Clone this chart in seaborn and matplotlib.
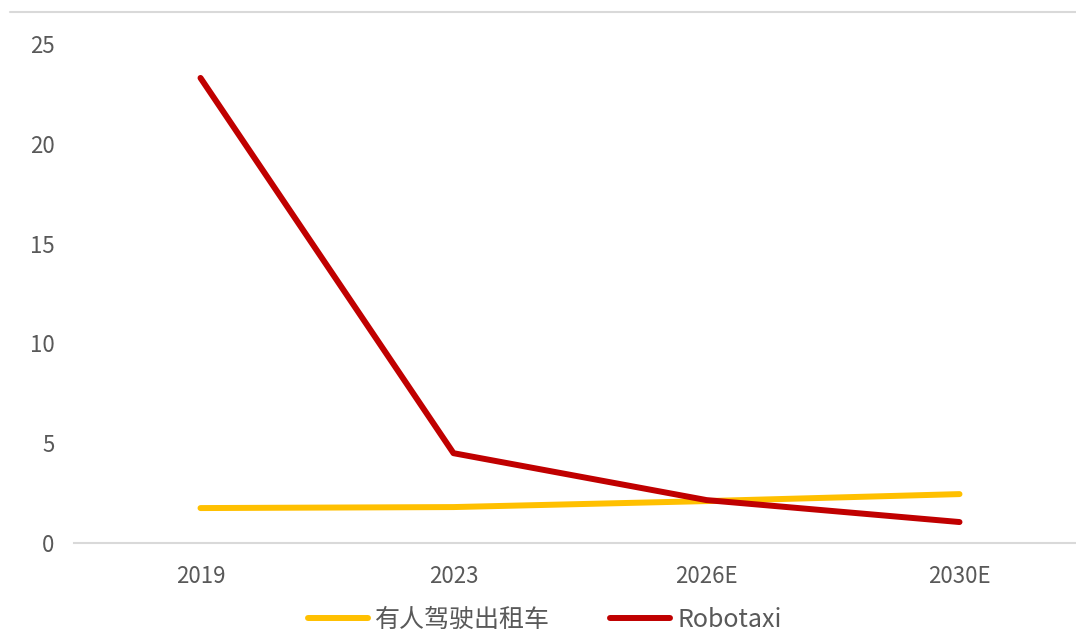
import matplotlib
matplotlib.use("Agg")
import matplotlib.pyplot as plt
from matplotlib.lines import Line2D
import pandas as pd
import seaborn as sns

# Cost per km comparison (yuan): human-driven taxi vs Robotaxi
years = ["2019", "2023", "2026E", "2030E"]
taxi_cost = [1.75, 1.8, 2.1, 2.45]
robotaxi_cost = [23.3, 4.5, 2.15, 1.05]
series_names = ["有人驾驶出租车", "Robotaxi"]
y_ticks = [0, 5, 10, 15, 20, 25]

df = pd.DataFrame({
    "year": years * 2,
    "value": taxi_cost + robotaxi_cost,
    "series": [series_names[0]] * len(years) + [series_names[1]] * len(years),
})

sns.set_theme(style="white")
plt.rcParams["font.family"] = ["Noto Sans CJK SC", "DejaVu Sans"]

fig = plt.figure(figsize=(10.76, 6.37), dpi=100)
ax = fig.add_axes([74 / 1076, 1 - 543 / 637, 1012 / 1076, (543 - 44) / 637])

palette = {series_names[0]: "#FFC000", series_names[1]: "#C00000"}
sns.lineplot(data=df, x="year", y="value", hue="series", palette=palette,
             linewidth=4.3, sort=False, ax=ax, legend=True)
for ln in ax.get_lines():
    ln.set_solid_capstyle("round")
    ln.set_solid_joinstyle("round")

ax.set_xlim(-0.5, len(years) - 0.5)
ax.set_ylim(0, 25)
ax.set_yticks(y_ticks)
ax.set_yticklabels([str(t) for t in y_ticks])
ax.set_xlabel("")
ax.set_ylabel("")

for side in ["top", "right", "left"]:
    ax.spines[side].set_visible(False)
ax.spines["bottom"].set_color("#D9D9D9")
ax.spines["bottom"].set_linewidth(1.5)

ax.tick_params(axis="both", length=0, colors="#595959", labelsize=16)
ax.tick_params(axis="y", pad=14)
ax.tick_params(axis="x", pad=16)

handles, labels = ax.get_legend_handles_labels()
ax.get_legend().remove()
leg = fig.legend(handles, labels, loc="center", ncol=2,
                 bbox_to_anchor=(545 / 1076, 1 - 620 / 637),
                 frameon=False, fontsize=18, handlelength=2.4,
                 handletextpad=0.3, columnspacing=2.4, borderpad=0.2)
for t in leg.get_texts():
    t.set_color("#595959")
for h in leg.get_lines():
    h.set_linewidth(4.3)

# thin grey rule along the top of the chart area
fig.add_artist(Line2D([10 / 1076, 1.0], [1 - 12 / 637, 1 - 12 / 637],
                      color="#D9D9D9", linewidth=1.5, transform=fig.transFigure))

fig.savefig("out.png", dpi=100)
